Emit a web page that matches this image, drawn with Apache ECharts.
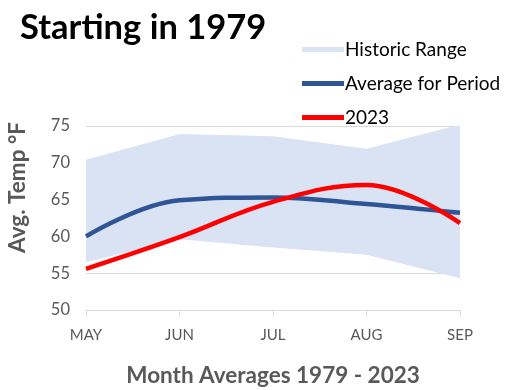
<!DOCTYPE html>
<html><head><meta charset="utf-8">
<script src="https://cdn.jsdelivr.net/npm/echarts@6/dist/echarts.min.js"></script>
<style>html,body{margin:0;padding:0;background:#fff}#c{width:508px;height:390px}</style>
</head><body><div id="c"></div>
<script>
const months = ['MAY','JUN','JUL','AUG','SEP'];
const rangeLow = [56.5, 59.6, 58.5, 57.5, 54.3];
const rangeHigh = [70.4, 73.9, 73.6, 71.9, 75.2];
const average = [60.0, 64.9, 65.3, 64.4, 63.2];
const y2023 = [55.6, 59.9, 64.7, 67.0, 61.8];
const yTicks = [50, 55, 60, 65, 70, 75];

const FONT = 'Lato';
const gray = '#595959';
const chart = echarts.init(document.getElementById('c'), null, {renderer:'canvas'});
chart.setOption({
  animation:false,
  title:{text:'Starting in 1979', left:15, top:5, textStyle:{fontFamily:FONT, fontWeight:'bold', fontSize:34.5, color:'#000'}},
  legend:{orient:'vertical', left:297, top:35, itemGap:15, itemWidth:42, itemHeight:5, icon:'rect',
    textStyle:{fontFamily:FONT, fontSize:19, color:'#000', padding:[0,0,0,-4]},
    data:[
      {name:'Historic Range', itemStyle:{color:'#dae3f3'}},
      {name:'Average for Period', itemStyle:{color:'#2f5597'}},
      {name:'2023', itemStyle:{color:'#ff0000'}}
    ]},
  grid:{left:86, right:48, top:126, bottom:80},
  xAxis:{type:'category', data:months, boundaryGap:false,
    name:'Month Averages 1979 - 2023', nameLocation:'middle', nameGap:54,
    nameTextStyle:{fontFamily:FONT, fontWeight:'bold', fontSize:22.5, color:gray},
    axisLine:{lineStyle:{color:'#d9d9d9', width:1}},
    axisTick:{show:true, alignWithLabel:true, length:6, lineStyle:{color:'#d9d9d9'}},
    axisLabel:{fontFamily:FONT, fontSize:15, color:gray, margin:18},
    splitLine:{show:false}},
  yAxis:{type:'value', min:yTicks[0], max:yTicks[yTicks.length-1], interval:5,
    axisLine:{show:false}, axisTick:{show:false},
    axisLabel:{fontFamily:FONT, fontSize:16.5, color:gray, margin:16},
    splitLine:{lineStyle:{color:'#d9d9d9', width:1}}},
  graphic:[{type:'text', left:6, top:122, rotation:Math.PI/2,
    style:{text:'Avg. Temp °F', font:'bold 22.5px '+FONT, fill:gray}}],
  series:[
    {name:'low', type:'line', data:rangeLow, stack:'r', symbol:'none', lineStyle:{width:0}, silent:true},
    {name:'Historic Range', type:'line', data:rangeHigh.map((v,i)=>+(v-rangeLow[i]).toFixed(2)), stack:'r', symbol:'none',
      lineStyle:{width:0}, areaStyle:{color:'#dae3f3', opacity:1}, itemStyle:{color:'#dae3f3'}},
    {name:'Average for Period', type:'line', data:average, smooth:0.4, symbol:'none',
      lineStyle:{color:'#2f5597', width:4.5}, itemStyle:{color:'#2f5597'}},
    {name:'2023', type:'line', data:y2023, smooth:0.4, symbol:'none',
      lineStyle:{color:'#ff0000', width:4.5}, itemStyle:{color:'#ff0000'}}
  ]
});
</script></body></html>
